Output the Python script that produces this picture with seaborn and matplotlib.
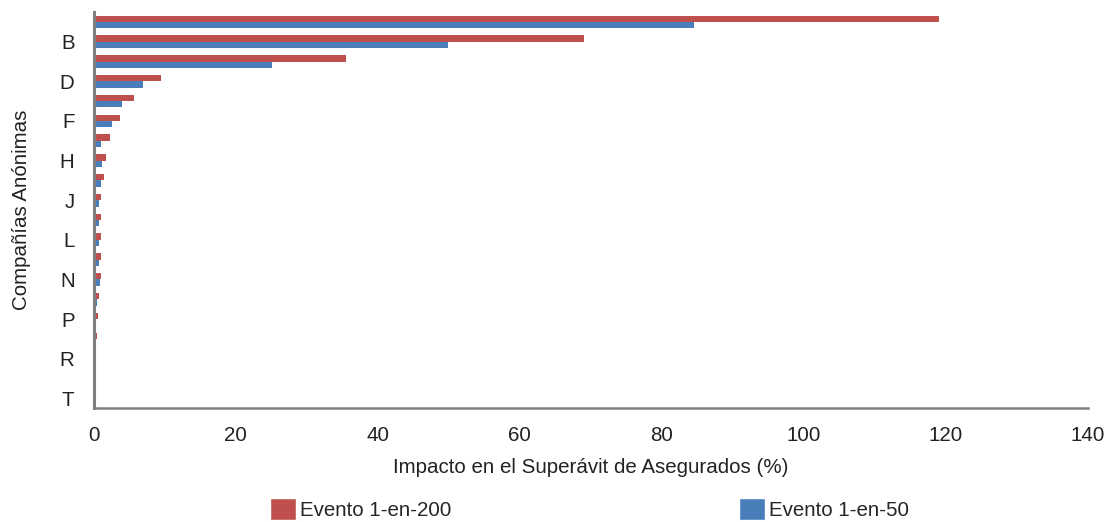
import matplotlib
matplotlib.use("Agg")
import matplotlib.pyplot as plt
import seaborn as sns
import pandas as pd
from matplotlib.patches import Patch

categories = list("ABCDEFGHIJKLMNOPQRST")
evento_200 = [119.1, 69.1, 35.5, 9.45, 5.6, 3.7, 2.2, 1.65, 1.4, 1.05,
              1.05, 0.95, 0.95, 0.95, 0.65, 0.56, 0.47, 0.33, 0.24, 0.05]
evento_50 = [84.5, 49.9, 25.1, 6.9, 3.9, 2.6, 1.05, 1.15, 1.05, 0.7,
             0.7, 0.7, 0.67, 0.8, 0.38, 0.33, 0.28, 0.24, 0.1, 0.0]
series_names = ["Evento 1-en-200", "Evento 1-en-50"]
colors = ["#C0504D", "#4A7EBB"]
xticks = [0, 20, 40, 60, 80, 100, 120, 140]

df = pd.DataFrame({
    "cat": categories * 2,
    "val": evento_200 + evento_50,
    "serie": [series_names[0]] * len(categories) + [series_names[1]] * len(categories),
})

sns.set_theme(style="white")
plt.rcParams["font.family"] = ["Liberation Sans", "DejaVu Sans"]

FS = 14.8
fig = plt.figure(figsize=(11.12, 5.22), dpi=100)
ax = fig.add_axes([0.0845, 0.218, 0.978 - 0.0845, 0.977 - 0.218])

sns.barplot(data=df, y="cat", x="val", hue="serie", orient="h",
            palette=colors, hue_order=series_names, order=categories,
            width=0.64, ax=ax, legend=False, saturation=1, linewidth=0)

ax.set_xlim(0, 140)
ax.set_xticks(xticks)
ax.set_xticklabels([str(t) for t in xticks], fontsize=FS, color="#222222")
ax.set_yticks(range(len(categories)))
ax.set_yticklabels([c if i % 2 == 1 else "" for i, c in enumerate(categories)],
                   fontsize=FS, color="#222222")
ax.tick_params(axis="both", length=0)
ax.tick_params(axis="y", pad=14)
ax.tick_params(axis="x", pad=13)

ax.set_xlabel("Impacto en el Superávit de Asegurados (%)", fontsize=FS,
              color="#222222", labelpad=9)
ax.set_ylabel("Compañías Anónimas", fontsize=FS, color="#222222", labelpad=21)

for s in ["top", "right"]:
    ax.spines[s].set_visible(False)
ax.spines["left"].set_color("#808080")
ax.spines["left"].set_linewidth(2.2)
ax.spines["bottom"].set_color("#808080")
ax.spines["bottom"].set_linewidth(1.8)

handles = [Patch(facecolor=colors[0]), Patch(facecolor=colors[1])]
fig.legend(handles, series_names, loc="lower center", bbox_to_anchor=(0.53, -0.032),
           ncol=2, frameon=False, fontsize=FS, handlelength=1.25,
           handleheight=1.25, handletextpad=0.2, columnspacing=14.0)

fig.savefig("out.png", dpi=100)
